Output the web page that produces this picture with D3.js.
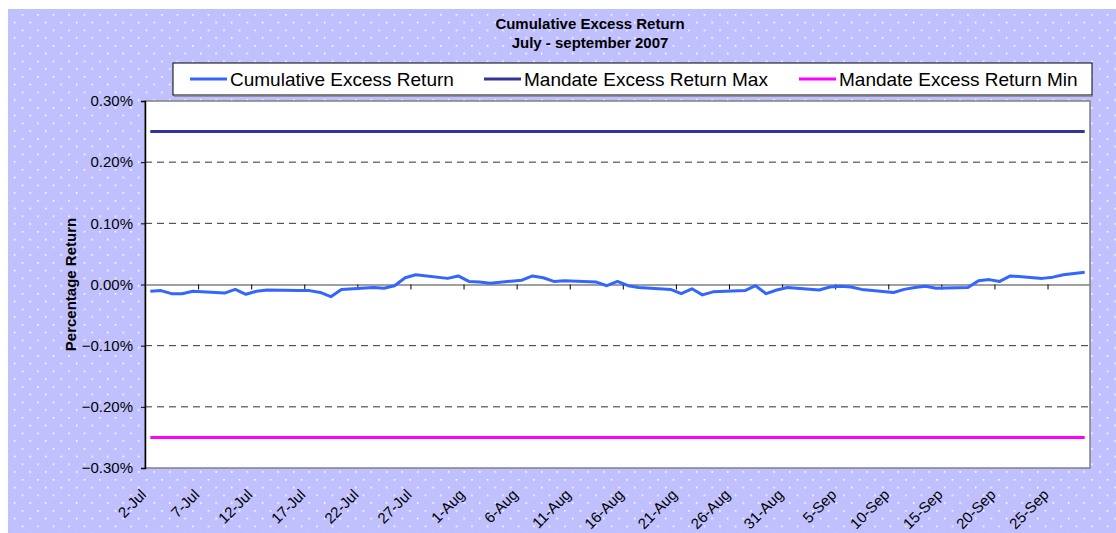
<!DOCTYPE html>
<html>
<head>
<meta charset="utf-8">
<script src="https://d3js.org/d3.v7.min.js"></script>
<style>
  body { margin: 0; background: #fff; }
  text { font-family: Arial, "Liberation Sans", sans-serif; fill: #000; }
</style>
</head>
<body>
<svg width="1116" height="533"></svg>
<script>
// business days, July - September 2007
var dates = [
  "2007-07-02","2007-07-03","2007-07-04","2007-07-05","2007-07-06",
  "2007-07-09","2007-07-10","2007-07-11","2007-07-12","2007-07-13",
  "2007-07-16","2007-07-17","2007-07-18","2007-07-19","2007-07-20",
  "2007-07-23","2007-07-24","2007-07-25","2007-07-26","2007-07-27",
  "2007-07-30","2007-07-31","2007-08-01","2007-08-02","2007-08-03",
  "2007-08-06","2007-08-07","2007-08-08","2007-08-09","2007-08-10",
  "2007-08-13","2007-08-14","2007-08-15","2007-08-16","2007-08-17",
  "2007-08-20","2007-08-21","2007-08-22","2007-08-23","2007-08-24",
  "2007-08-27","2007-08-28","2007-08-29","2007-08-30","2007-08-31",
  "2007-09-03","2007-09-04","2007-09-05","2007-09-06","2007-09-07",
  "2007-09-10","2007-09-11","2007-09-12","2007-09-13","2007-09-14",
  "2007-09-17","2007-09-18","2007-09-19","2007-09-20","2007-09-21",
  "2007-09-24","2007-09-25","2007-09-26","2007-09-27","2007-09-28"
];

// cumulative excess return in %
var cumulative = [
  -0.011,-0.010,-0.015,-0.015,-0.011,
  -0.014,-0.008,-0.016,-0.011,-0.009,
  -0.010,-0.010,-0.013,-0.020,-0.008,
  -0.005,-0.006,-0.002, 0.011, 0.016,
   0.010, 0.014, 0.005, 0.004, 0.002,
   0.007, 0.014, 0.011, 0.005, 0.006,
   0.004,-0.002, 0.005,-0.002,-0.005,
  -0.008,-0.015,-0.007,-0.017,-0.012,
  -0.010,-0.002,-0.015,-0.009,-0.005,
  -0.009,-0.004,-0.003,-0.004,-0.008,
  -0.013,-0.008,-0.005,-0.003,-0.006,
  -0.005, 0.006, 0.008, 0.005, 0.014,
   0.010, 0.012, 0.016, 0.018, 0.020
];
var mandateMax = 0.25;
var mandateMin = -0.25;

var xTickLabels = ["2-Jul","7-Jul","12-Jul","17-Jul","22-Jul","27-Jul","1-Aug","6-Aug",
  "11-Aug","16-Aug","21-Aug","26-Aug","31-Aug","5-Sep","10-Sep","15-Sep","20-Sep","25-Sep"];
var yTicks = [-0.3, -0.2, -0.1, 0, 0.1, 0.2, 0.3];

var seriesNames = ["Cumulative Excess Return", "Mandate Excess Return Max", "Mandate Excess Return Min"];
var seriesColors = ["#3366ff", "#333399", "#ff00ff"];

var parseDate = d3.utcParse("%Y-%m-%d");
var parseTick = d3.utcParse("%d-%b-%Y");
var fmtTick = d3.utcFormat("%-d-%b");

var svg = d3.select("svg");

// chart area background with dotted pattern
var defs = svg.append("defs");
var pat = defs.append("pattern")
  .attr("id", "dots")
  .attr("patternUnits", "userSpaceOnUse")
  .attr("x", 6.2).attr("y", -1.5)
  .attr("width", 15.5).attr("height", 15.5);
pat.append("rect").attr("width", 15.5).attr("height", 15.5).attr("fill", "#c0c0ff");
pat.append("circle").attr("cx", 0.75).attr("cy", 0.75).attr("r", 0.9).attr("fill", "#fff");
pat.append("circle").attr("cx", 8.5).attr("cy", 8.5).attr("r", 0.9).attr("fill", "#fff");

svg.append("rect")
  .attr("x", 8).attr("y", 9).attr("width", 1116 - 8).attr("height", 533 - 9)
  .attr("fill", "url(#dots)");

var plot = {left: 145, top: 101, right: 1090, bottom: 468};

var start = parseDate(dates[0]);
var end = d3.utcDay.offset(parseDate(dates[dates.length - 1]), 1);

var x = d3.scaleUtc().domain([start, end]).range([plot.left, plot.right]);
var y = d3.scaleLinear().domain([-0.3, 0.3]).range([plot.bottom, plot.top]);

// points sit in the middle of each day slot
function xMid(d) { return x(d3.utcHour.offset(d, 12)); }

var data = dates.map(function (d, i) {
  return {date: parseDate(d), cum: cumulative[i], max: mandateMax, min: mandateMin};
});

// plot area
svg.append("rect")
  .attr("x", plot.left).attr("y", plot.top)
  .attr("width", plot.right - plot.left).attr("height", plot.bottom - plot.top)
  .attr("fill", "#fff").attr("stroke", "#808080").attr("stroke-width", 1.5);

// gridlines
svg.append("g").selectAll("line")
  .data(yTicks.filter(function (t) { return t !== 0 && Math.abs(t) < 0.3; }))
  .enter().append("line")
  .attr("x1", plot.left).attr("x2", plot.right)
  .attr("y1", function (d) { return y(d); }).attr("y2", function (d) { return y(d); })
  .attr("stroke", "#333").attr("stroke-width", 1)
  .attr("stroke-dasharray", "7,5");

// y axis
var yAxis = svg.append("g")
  .attr("transform", "translate(" + plot.left + ",0)")
  .call(d3.axisLeft(y).tickValues(yTicks).tickSize(4).tickPadding(8)
    .tickFormat(function (d) { return d3.format(".2%")(d / 100); }));
yAxis.select(".domain").attr("stroke", "#000").attr("stroke-width", 1.5);
yAxis.selectAll(".tick line").attr("stroke", "#000");
yAxis.selectAll("text").style("font-size", "15px").attr("fill", "#000");

// x axis line through zero
var tickDates = xTickLabels.map(function (t) { return parseTick(t + "-2007"); });
var xAxis = svg.append("g")
  .attr("transform", "translate(0," + y(0) + ")")
  .call(d3.axisBottom(x).tickValues(tickDates).tickSize(5).tickSizeOuter(0).tickFormat(""));
xAxis.select(".domain").attr("stroke", "#808080").attr("stroke-width", 1.5);
xAxis.selectAll(".tick line").attr("stroke", "#000");

// x tick labels at the bottom
var xLabels = svg.append("g")
  .attr("transform", "translate(0," + plot.bottom + ")")
  .call(d3.axisBottom(x).tickValues(tickDates).tickSize(0).tickFormat(fmtTick));
xLabels.select(".domain").remove();
xLabels.selectAll("text")
  .attr("x", 0).attr("y", 0).attr("dy", "0.35em")
  .attr("text-anchor", "end")
  .attr("transform", "translate(-2,24) rotate(-45)")
  .style("font-size", "15px").attr("fill", "#000");

// series
var line = d3.line().x(function (d) { return xMid(d.date); });

svg.append("path").datum(data)
  .attr("fill", "none").attr("stroke", seriesColors[1]).attr("stroke-width", 3)
  .attr("d", line.y(function (d) { return y(d.max); }));
svg.append("path").datum(data)
  .attr("fill", "none").attr("stroke", seriesColors[2]).attr("stroke-width", 3)
  .attr("d", line.y(function (d) { return y(d.min); }));
svg.append("path").datum(data)
  .attr("fill", "none").attr("stroke", seriesColors[0]).attr("stroke-width", 3)
  .attr("stroke-linejoin", "round")
  .attr("d", line.y(function (d) { return y(d.cum); }));

// title
svg.append("text").attr("x", 590).attr("y", 23).attr("text-anchor", "middle")
  .attr("dominant-baseline", "central")
  .style("font-size", "15px").style("font-weight", "bold")
  .text("Cumulative Excess Return");
svg.append("text").attr("x", 590).attr("y", 42).attr("text-anchor", "middle")
  .attr("dominant-baseline", "central")
  .style("font-size", "15px").style("font-weight", "bold")
  .text("July - september 2007");

// y title
svg.append("text")
  .attr("transform", "translate(70," + ((plot.top + plot.bottom) / 2) + ") rotate(-90)")
  .attr("text-anchor", "middle").attr("dominant-baseline", "central")
  .style("font-size", "15px").style("font-weight", "bold")
  .text("Percentage Return");

// legend
var legend = svg.append("g");
legend.append("rect")
  .attr("x", 173).attr("y", 63).attr("width", 919).attr("height", 32)
  .attr("fill", "#fff").attr("stroke", "#000").attr("stroke-width", 1);
legend.append("line")
  .attr("x1", 174).attr("x2", 1093).attr("y1", 96).attr("y2", 96)
  .attr("stroke", "#808080").attr("stroke-width", 1.5);
var legendX = [190, 484, 799];
seriesNames.forEach(function (name, i) {
  legend.append("line")
    .attr("x1", legendX[i]).attr("x2", legendX[i] + 37)
    .attr("y1", 79).attr("y2", 79)
    .attr("stroke", seriesColors[i]).attr("stroke-width", 3);
  legend.append("text")
    .attr("x", legendX[i] + 40).attr("y", 79)
    .attr("dominant-baseline", "central")
    .style("font-size", "19px")
    .text(name);
});
</script>
</body>
</html>
